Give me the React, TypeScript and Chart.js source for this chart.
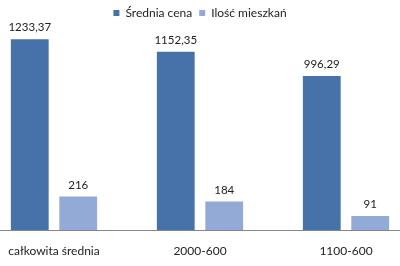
import React, { useEffect, useRef } from "react";
import { Chart, registerables } from "chart.js";

Chart.register(...registerables);

const categories = ["całkowita średnia", "2000-600", "1100-600"];
const seriesNames = ["Średnia cena", "Ilość mieszkań"];
const avgPrice = [1233.37, 1152.35, 996.29];
const flatCount = [216, 184, 91];
const colors = ["#4672A9", "#93A9D6"];

const FONT = "Lato, 'Open Sans', sans-serif";

function fmt(v: number): string {
  return Number.isInteger(v) ? String(v) : v.toFixed(2).replace(".", ",");
}

const valueLabels = {
  id: "valueLabels",
  afterDatasetsDraw(chart: any) {
    const ctx = chart.ctx;
    ctx.save();
    ctx.font = `11.5px ${FONT}`;
    ctx.fillStyle = "#222";
    ctx.textAlign = "center";
    ctx.textBaseline = "bottom";
    chart.data.datasets.forEach((ds: any, i: number) => {
      const meta = chart.getDatasetMeta(i);
      meta.data.forEach((bar: any, j: number) => {
        ctx.fillText(fmt(ds.data[j]), bar.x, bar.y - 6);
      });
    });
    ctx.restore();
  },
};

export default function App() {
  const ref = useRef<HTMLCanvasElement>(null);
  useEffect(() => {
    document.body.style.margin = "0";
    const chart = new Chart(ref.current!, {
      type: "bar",
      data: {
        labels: categories,
        datasets: [
          { label: seriesNames[0], data: avgPrice, backgroundColor: colors[0] },
          { label: seriesNames[1], data: flatCount, backgroundColor: colors[1] },
        ],
      },
      options: {
        responsive: false,
        animation: false,
        devicePixelRatio: 1,
        layout: { padding: 0 },
        datasets: { bar: { categoryPercentage: 0.664, barPercentage: 0.78 } },
        plugins: {
          tooltip: { enabled: false },
          legend: {
            position: "top",
            labels: {
              boxWidth: 6,
              boxHeight: 6,
              padding: 7,
              color: "#222",
              font: { family: FONT, size: 12 },
            },
          },
        },
        scales: {
          x: {
            grid: { display: false },
            border: { display: true, color: "#868686", width: 1 },
            ticks: { color: "#222", padding: 6, font: { family: FONT, size: 12 }, maxRotation: 0, autoSkip: false },
            afterFit: (s: any) => {
              s.height = 36;
            },
          },
          y: {
            display: false,
            min: 0,
            max: 1300,
          },
        },
      },
      plugins: [valueLabels],
    });
    return () => chart.destroy();
  }, []);
  return (
    <div style={{ position: "relative", width: 400, height: 266, overflow: "hidden", background: "#fff" }}>
      <canvas
        ref={ref}
        width={438}
        height={266}
        style={{ position: "absolute", left: -19, top: 0, width: 438, height: 266 }}
      />
    </div>
  );
}
